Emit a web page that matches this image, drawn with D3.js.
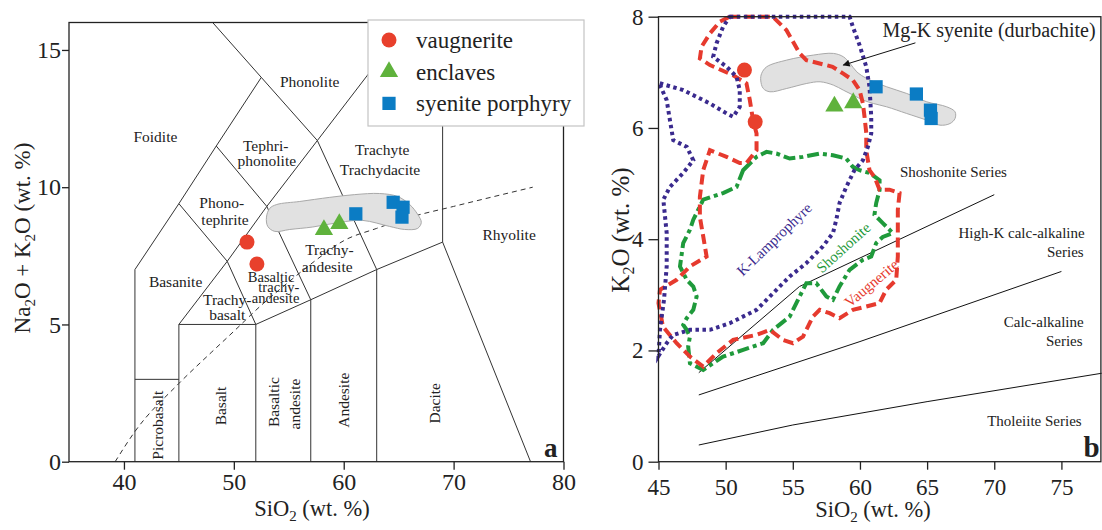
<!DOCTYPE html>
<html><head><meta charset="utf-8">
<script src="https://cdn.jsdelivr.net/npm/d3@7"></script>
<style>
html,body{margin:0;padding:0;background:#fff;}
svg{display:block;}
</style></head><body>
<svg id="chart" width="1102" height="530" font-family="Liberation Serif, serif"></svg>
<script>
// ================= DATA =================
// ticks
const tasXTicks = [40, 50, 60, 70, 80];
const tasYTicks = [0, 5, 10, 15];
const kXTicks = [45, 50, 55, 60, 65, 70, 75];
const kYTicks = [0, 2, 4, 6, 8];

// Panel a (TAS) samples
const vaugTasSi = [51.2, 52.1];
const vaugTasAlk = [8.0, 7.2];
const enclTasSi = [58.2, 59.6];
const enclTasAlk = [8.45, 8.67];
const syenTasSi = [61.1, 64.5, 65.4, 65.3];
const syenTasAlk = [9.03, 9.45, 9.27, 8.91];

// Panel b (K2O vs SiO2) samples
const vaugKSi = [51.4, 52.2];
const vaugK = [7.04, 6.11];
const enclKSi = [58.1, 59.5];
const enclK = [6.39, 6.45];
const syenKSi = [61.2, 64.2, 65.25, 65.3];
const syenK = [6.74, 6.61, 6.32, 6.17];

// TAS field boundaries (SiO2, Na2O+K2O)
const tasBoundaries = [
  [[41,0],[41,7]],
  [[41,7],[45,9.4],[48.4,11.5],[52.5,14]],
  [[48.07,16],[52.5,14],[57.6,11.7]],
  [[45,0],[45,5]],
  [[41,3],[45,3]],
  [[45,5],[52,5]],
  [[52,0],[52,5]],
  [[45,5],[49.4,7.3],[53,9.3],[57.6,11.7],[65.84,16]],
  [[52,5],[57,5.9],[63,7],[69,8]],
  [[57,0],[57,5.9]],
  [[63,0],[63,7]],
  [[69,8],[77,0]],
  [[69,8],[69,16]],
  [[49.4,7.3],[52,5]],
  [[53,9.3],[57,5.9]],
  [[57.6,11.7],[63,7]],
  [[45,9.4],[49.4,7.3]],
  [[48.4,11.5],[53,9.3]]
];
// alkaline / subalkaline divide (dashed)
const alkDivide = [[39.2,0],[41,1.1],[45,2.85],[48,4.0],[50,4.75],[52.5,5.7],[55,6.55],[57.5,7.35],[60,8.05],[63,8.5],[66,8.9],[70,9.3],[77.2,10.0]];

// durbachite field in panel a
const durbTas = [[52.97,8.91],[53.27,9.23],[53.91,9.37],[56.0,9.48],[58.73,9.63],[61.0,9.73],[63.27,9.77],[64.91,9.66],[66.0,9.37],[66.73,9.01],[67.06,8.72],[66.73,8.50],[65.55,8.46],[64.18,8.57],[61.73,8.79],[59.64,8.72],[57.18,8.55],[55.09,8.46],[53.73,8.39],[53.09,8.57]];
// durbachite field in panel b
const durbK = [[52.61,6.86],[52.68,6.98],[53.06,7.10],[54.55,7.22],[56.53,7.31],[58.02,7.34],[58.76,7.28],[59.26,7.16],[59.76,7.01],[60.50,6.89],[61.99,6.74],[63.48,6.62],[64.97,6.47],[66.46,6.38],[67.08,6.29],[67.08,6.17],[66.71,6.08],[65.96,6.05],[64.97,6.14],[63.48,6.26],[61.99,6.38],[61.0,6.44],[60.25,6.50],[59.50,6.59],[58.76,6.68],[58.02,6.77],[57.03,6.83],[56.04,6.80],[54.55,6.71],[53.30,6.65],[52.80,6.71]];

// series boundaries (panel b)
const shoshoniteBound = [[48,1.6],[55.5,3.15],[70,4.8]];
const highKBound = [[48,1.2],[60,2.16],[75,3.42]];
const calcAlkBound = [[48,0.3],[55,0.66],[65,1.08],[78,1.59]];

// reference fields (panel b)
const vaugField = [[50.31,8.0],[53.51,8.0],[54.52,7.76],[55.51,7.34],[56.01,7.22],[57.96,7.10],[58.73,6.98],[59.47,6.86],[59.97,6.68],[60.22,6.44],[60.34,6.20],[60.47,5.91],[60.47,5.60],[60.71,5.24],[61.08,5.12],[61.46,4.89],[62.20,4.89],[62.95,4.83],[62.82,4.53],[62.82,4.05],[62.82,3.69],[62.70,3.27],[61.95,3.09],[61.46,2.85],[60.47,2.79],[59.47,2.73],[58.48,2.58],[57.74,2.67],[57.0,2.73],[56.50,2.61],[55.76,2.25],[55.01,2.13],[54.27,2.19],[53.28,2.37],[52.30,2.28],[50.56,2.19],[49.32,1.95],[48.33,1.71],[47.34,1.89],[46.35,2.13],[45.33,2.43],[45.0,2.85],[45.11,3.09],[46.35,3.27],[47.34,3.51],[48.58,3.69],[48.33,4.05],[48.08,4.40],[48.08,4.76],[48.33,5.24],[48.58,5.42],[48.83,5.60],[50.07,5.48],[51.05,5.37],[51.55,5.37],[52.30,5.60],[52.30,5.90],[52.04,6.14],[51.80,6.50],[51.55,6.80],[50.53,6.95],[48.83,7.13],[48.08,7.25],[48.21,7.46],[48.83,7.70],[49.57,7.91]];
const lampField = [[50.31,8.0],[59.23,8.0],[59.47,7.82],[59.97,7.49],[60.47,7.10],[60.71,6.74],[60.84,6.20],[60.84,5.90],[60.59,5.66],[60.22,5.42],[59.59,5.24],[58.98,4.94],[58.48,4.65],[58.24,4.35],[57.99,4.11],[57.24,3.87],[56.01,3.57],[54.77,3.33],[53.78,3.09],[52.30,2.73],[50.31,2.49],[48.83,2.37],[47.34,2.37],[46.10,2.28],[45.61,2.13],[45.0,1.90],[45.11,2.37],[45.41,2.91],[45.61,3.51],[45.61,4.11],[45.36,4.71],[45.85,4.94],[46.84,5.19],[47.59,5.42],[47.10,5.66],[46.10,5.78],[45.85,6.14],[45.61,6.50],[45.11,6.77],[45.0,6.81],[46.84,6.68],[48.83,6.44],[50.07,6.26],[50.56,6.20],[51.05,6.38],[51.05,6.68],[50.81,6.92],[50.07,7.10],[49.07,7.28],[49.32,7.52],[49.81,7.82]];
const shoshField = [[51.30,5.24],[52.30,5.48],[53.04,5.57],[53.78,5.54],[54.77,5.45],[55.76,5.48],[57.00,5.54],[57.99,5.51],[58.98,5.45],[59.47,5.30],[59.97,5.24],[60.71,5.19],[61.46,5.06],[61.46,4.88],[61.21,4.65],[61.08,4.44],[61.70,4.29],[62.45,4.11],[61.70,4.04],[61.21,3.93],[60.84,3.69],[60.22,3.63],[59.23,3.45],[58.48,3.15],[57.99,2.91],[57.50,2.97],[56.75,3.21],[56.01,3.21],[55.51,2.97],[54.77,2.61],[53.53,2.37],[52.79,2.13],[51.30,2.01],[49.81,1.89],[48.33,1.65],[47.34,1.77],[47.21,2.07],[47.34,2.25],[47.10,2.37],[46.84,2.46],[47.10,2.58],[47.59,2.73],[47.84,2.97],[47.59,3.15],[47.10,3.27],[46.60,3.51],[46.84,3.93],[47.34,4.17],[47.59,4.35],[48.33,4.71],[49.81,4.83],[50.81,4.94]];

// legend entries
const legendNames = ["vaugnerite", "enclaves", "syenite porphyry"];

// ================= STYLE / LAYOUT =================
const FONT = "Liberation Serif, serif";
const C_RED = "#e8402c", C_GREEN = "#5fb23c", C_BLUE = "#0b7cc4";
const C_FRED = "#e63a2e", C_FPUR = "#3a2a8e", C_FGRN = "#1f9a3b";
const INK = "#222";
const svg = d3.select("#chart");

const xA = d3.scaleLinear().domain([35, 80]).range([69, 563.5]);
const yA = d3.scaleLinear().domain([0, 16]).range([461.7, 22.5]);
const xB = d3.scaleLinear().domain([45, 78]).range([658.5, 1101.7]);
const yB = d3.scaleLinear().domain([0, 8]).range([461.7, 16.7]);

const sym = (type, size) => d3.symbol().type(type).size(size)();

function addSub(textSel, parts, subSize, shift) {
  parts.forEach(p => {
    if (p.sub) {
      textSel.append("tspan").attr("font-size", subSize).attr("dy", shift).text(p.t);
    } else {
      const ts = textSel.append("tspan").text(p.t);
      if (p.after) ts.attr("dy", -shift);
    }
  });
}

// ================= PANEL A =================
const gA = svg.append("g");
const lineA = d3.line().x(d => xA(d[0])).y(d => yA(d[1]));

gA.selectAll("path.bound").data(tasBoundaries).join("path")
  .attr("d", lineA).attr("fill", "none").attr("stroke", "#333").attr("stroke-width", 1);

gA.append("path").datum(alkDivide)
  .attr("d", d3.line().x(d => xA(d[0])).y(d => yA(d[1])).curve(d3.curveMonotoneX)).attr("fill", "none")
  .attr("stroke", "#333").attr("stroke-width", 1).attr("stroke-dasharray", "5,4");

gA.append("path").datum(durbTas)
  .attr("d", d3.line().x(d => xA(d[0])).y(d => yA(d[1])).curve(d3.curveCatmullRomClosed))
  .attr("fill", "#e1e1e1").attr("stroke", "#a9a9a9").attr("stroke-width", 1);

// field labels
const tasLabels = [
  ["Foidite", 42.86, 11.66, 15.5], ["Phonolite", 56.9, 13.66, 15.5],
  ["Tephri-", 52.9, 11.33, 15.5], ["phonolite", 53.0, 10.79, 15.5],
  ["Phono-", 48.9, 9.26, 15.5], ["tephrite", 49.2, 8.64, 15.5],
  ["Trachyte", 63.5, 11.19, 15.5], ["Trachydacite", 63.3, 10.46, 15.5],
  ["Rhyolite", 75.05, 8.06, 15.5],
  ["Trachy-", 58.7, 7.52, 15.5], ["andesite", 58.5, 6.9, 15.5],
  ["Basanite", 44.7, 6.35, 15.5],
  ["Basaltic", 53.4, 6.55, 14.5], ["trachy-", 54.1, 6.17, 14.5], ["andesite", 53.8, 5.77, 14.5],
  ["Trachy-", 49.4, 5.70, 15.5], ["basalt", 49.4, 5.15, 15.5]
];
gA.selectAll("text.fl").data(tasLabels).join("text")
  .attr("x", d => xA(d[1])).attr("y", d => yA(d[2]))
  .attr("text-anchor", "middle").attr("font-size", d => d[3]).attr("fill", INK).text(d => d[0]);
const tasVLabels = [
  ["Picrobasalt", 43.09, 1.33], ["Basalt", 48.82, 2.03], ["Basaltic", 53.64, 2.17],
  ["andesite", 55.55, 2.10], ["Andesite", 60.0, 2.24], ["Dacite", 68.27, 2.13]
];
gA.selectAll("text.vl").data(tasVLabels).join("text")
  .attr("transform", d => `translate(${xA(d[1])},${yA(d[2])}) rotate(-90)`)
  .attr("dy", "0.35em").attr("text-anchor", "middle").attr("font-size", 15.5).attr("fill", INK).text(d => d[0]);

// markers
gA.selectAll("path.va").data(vaugTasSi).join("path")
  .attr("d", sym(d3.symbolCircle, 177)).attr("fill", C_RED)
  .attr("transform", (d, i) => `translate(${xA(d)},${yA(vaugTasAlk[i])})`);
gA.selectAll("path.en").data(enclTasSi).join("path")
  .attr("d", sym(d3.symbolTriangle, 145)).attr("fill", C_GREEN)
  .attr("transform", (d, i) => `translate(${xA(d)},${yA(enclTasAlk[i])})`);
gA.selectAll("path.sy").data(syenTasSi).join("path")
  .attr("d", sym(d3.symbolSquare, 175)).attr("fill", C_BLUE)
  .attr("transform", (d, i) => `translate(${xA(d)},${yA(syenTasAlk[i])})`);

// frame
gA.append("rect").attr("x", xA(35)).attr("y", yA(16)).attr("width", xA(80) - xA(35)).attr("height", yA(0) - yA(16))
  .attr("fill", "none").attr("stroke", INK).attr("stroke-width", 1.3);

// axes
function styleAxis(g, fs) {
  g.attr("font-family", FONT).attr("font-size", fs);
  g.select(".domain").remove();
  g.selectAll(".tick line").attr("stroke", INK).attr("stroke-width", 1.3);
  g.selectAll(".tick text").attr("font-size", fs).attr("font-family", FONT).attr("fill", INK);
}
gA.append("g").attr("transform", `translate(0,${yA(0)})`)
  .call(d3.axisBottom(xA).tickValues(tasXTicks).tickSize(8).tickPadding(3).tickSizeOuter(0))
  .call(g => styleAxis(g, 24));
gA.append("g").attr("transform", `translate(${xA(35)},0)`)
  .call(d3.axisLeft(yA).tickValues(tasYTicks).tickSize(7).tickPadding(1).tickSizeOuter(0))
  .call(g => styleAxis(g, 24));

// axis titles
const tA = gA.append("text").attr("x", 312).attr("y", 516).attr("text-anchor", "middle").attr("font-size", 22.5).attr("fill", INK);
addSub(tA, [{t: "SiO"}, {t: "2", sub: true}, {t: " (wt. %)", after: true}], 15, 5);
const tAy = gA.append("text").attr("transform", "translate(30,238) rotate(-90)").attr("text-anchor", "middle").attr("font-size", 23).attr("fill", INK);
addSub(tAy, [{t: "Na"}, {t: "2", sub: true}, {t: "O + K", after: true}, {t: "2", sub: true}, {t: "O (wt. %)", after: true}], 15, 5);

gA.append("text").attr("x", xA(80) - 6).attr("y", yA(0) - 5).attr("text-anchor", "end")
  .attr("font-size", 27).attr("font-weight", "bold").attr("fill", INK).text("a");

// legend
const lg = gA.append("g");
lg.append("rect").attr("x", 368).attr("y", 20).attr("width", 216).attr("height", 106)
  .attr("fill", "#fff").attr("stroke", "#c4c4c4").attr("stroke-width", 1.2);
const legSyms = [[d3.symbolCircle, 177, C_RED], [d3.symbolTriangle, 145, C_GREEN], [d3.symbolSquare, 175, C_BLUE]];
legendNames.forEach((n, i) => {
  const cy = 40 + i * 31.7;
  lg.append("path").attr("d", sym(legSyms[i][0], legSyms[i][1])).attr("fill", legSyms[i][2])
    .attr("transform", `translate(389,${cy})`);
  lg.append("text").attr("x", 416).attr("y", cy + 8).attr("font-size", 23).attr("fill", INK).text(n);
});

// ================= PANEL B =================
const gB = svg.append("g");
const lineB = d3.line().x(d => xB(d[0])).y(d => yB(d[1]));
const lineBClosed = d3.line().x(d => xB(d[0])).y(d => yB(d[1])).curve(d3.curveLinearClosed);

[shoshoniteBound, highKBound, calcAlkBound].forEach(b => {
  gB.append("path").datum(b).attr("d", lineB).attr("fill", "none").attr("stroke", "#111").attr("stroke-width", 1);
});

gB.append("path").datum(durbK)
  .attr("d", d3.line().x(d => xB(d[0])).y(d => yB(d[1])).curve(d3.curveCatmullRomClosed))
  .attr("fill", "#e1e1e1").attr("stroke", "#a9a9a9").attr("stroke-width", 1);

gB.append("path").datum(shoshField).attr("d", lineBClosed)
  .attr("fill", "none").attr("stroke", C_FGRN).attr("stroke-width", 4).attr("stroke-dasharray", "12,4,4,4");
gB.append("path").datum(vaugField).attr("d", lineBClosed)
  .attr("fill", "none").attr("stroke", C_FRED).attr("stroke-width", 4).attr("stroke-dasharray", "10,5");
gB.append("path").datum(lampField).attr("d", lineBClosed)
  .attr("fill", "none").attr("stroke", C_FPUR).attr("stroke-width", 4).attr("stroke-dasharray", "3.5,3.5");

// field labels (rotated)
const fieldLabels = [["K-Lamprophyre", 53.61, 4.0, -44, C_FPUR], ["Shoshonite", 58.76, 3.85, -42, C_FGRN], ["Vaugnerite", 60.85, 3.21, -40, C_FRED]];
gB.selectAll("text.fld").data(fieldLabels).join("text")
  .attr("transform", d => `translate(${xB(d[1])},${yB(d[2])}) rotate(${d[3]})`)
  .attr("dy", "0.35em").attr("text-anchor", "middle").attr("font-size", 15).attr("fill", d => d[4]).text(d => d[0]);

// series labels
const seriesLabels = [
  ["Shoshonite Series", 66.96, 5.12, "middle"],
  ["High-K calc-alkaline", 76.73, 4.02, "end"], ["Series", 76.66, 3.68, "end"],
  ["Calc-alkaline", 76.66, 2.42, "end"], ["Series", 76.58, 2.08, "end"],
  ["Tholeiite Series", 76.51, 0.64, "end"]
];
gB.selectAll("text.sl").data(seriesLabels).join("text")
  .attr("x", d => xB(d[1])).attr("y", d => yB(d[2])).attr("text-anchor", d => d[3])
  .attr("font-size", 15).attr("fill", INK).text(d => d[0]);

// durbachite label + arrow
svg.append("defs").append("marker").attr("id", "arr").attr("viewBox", "0 0 10 10").attr("refX", 9).attr("refY", 5)
  .attr("markerWidth", 9).attr("markerHeight", 7).attr("markerUnits", "userSpaceOnUse").attr("orient", "auto")
  .append("path").attr("d", "M0,0L10,5L0,10z").attr("fill", "#111");
gB.append("line").attr("x1", xB(64.13)).attr("y1", yB(7.53)).attr("x2", xB(58.76)).attr("y2", yB(7.13))
  .attr("stroke", "#111").attr("stroke-width", 1).attr("marker-end", "url(#arr)");
gB.append("text").attr("x", xB(61.67)).attr("y", yB(7.64)).attr("font-size", 20).attr("fill", INK).text("Mg-K syenite (durbachite)");

// markers
gB.selectAll("path.va").data(vaugKSi).join("path")
  .attr("d", sym(d3.symbolCircle, 177)).attr("fill", C_RED)
  .attr("transform", (d, i) => `translate(${xB(d)},${yB(vaugK[i])})`);
gB.selectAll("path.en").data(enclKSi).join("path")
  .attr("d", sym(d3.symbolTriangle, 145)).attr("fill", C_GREEN)
  .attr("transform", (d, i) => `translate(${xB(d)},${yB(enclK[i])})`);
gB.selectAll("path.sy").data(syenKSi).join("path")
  .attr("d", sym(d3.symbolSquare, 175)).attr("fill", C_BLUE)
  .attr("transform", (d, i) => `translate(${xB(d)},${yB(syenK[i])})`);

// frame
gB.append("rect").attr("x", xB(45)).attr("y", yB(8)).attr("width", xB(78) - xB(45) - 0.8).attr("height", yB(0) - yB(8))
  .attr("fill", "none").attr("stroke", INK).attr("stroke-width", 1.3);

gB.append("g").attr("transform", `translate(0,${yB(0)})`)
  .call(d3.axisBottom(xB).tickValues(kXTicks).tickSize(8).tickPadding(9).tickSizeOuter(0))
  .call(g => styleAxis(g, 23));
gB.append("g").attr("transform", `translate(${xB(45)},0)`)
  .call(d3.axisLeft(yB).tickValues(kYTicks).tickSize(10).tickPadding(5).tickSizeOuter(0))
  .call(g => styleAxis(g, 23));

const tB = gB.append("text").attr("x", 873).attr("y", 517).attr("text-anchor", "middle").attr("font-size", 22.5).attr("fill", INK);
addSub(tB, [{t: "SiO"}, {t: "2", sub: true}, {t: " (wt. %)", after: true}], 15, 5);
const tBy = gB.append("text").attr("transform", "translate(629,230) rotate(-90)").attr("text-anchor", "middle").attr("font-size", 25).attr("fill", INK);
addSub(tBy, [{t: "K"}, {t: "2", sub: true}, {t: "O (wt. %)", after: true}], 16, 5);

gB.append("text").attr("x", xB(78) - 2).attr("y", yB(0) - 5).attr("text-anchor", "end")
  .attr("font-size", 29).attr("font-weight", "bold").attr("fill", INK).text("b");

// make sure every text uses the serif face
svg.selectAll("text").attr("font-family", FONT);
</script>
</body></html>
